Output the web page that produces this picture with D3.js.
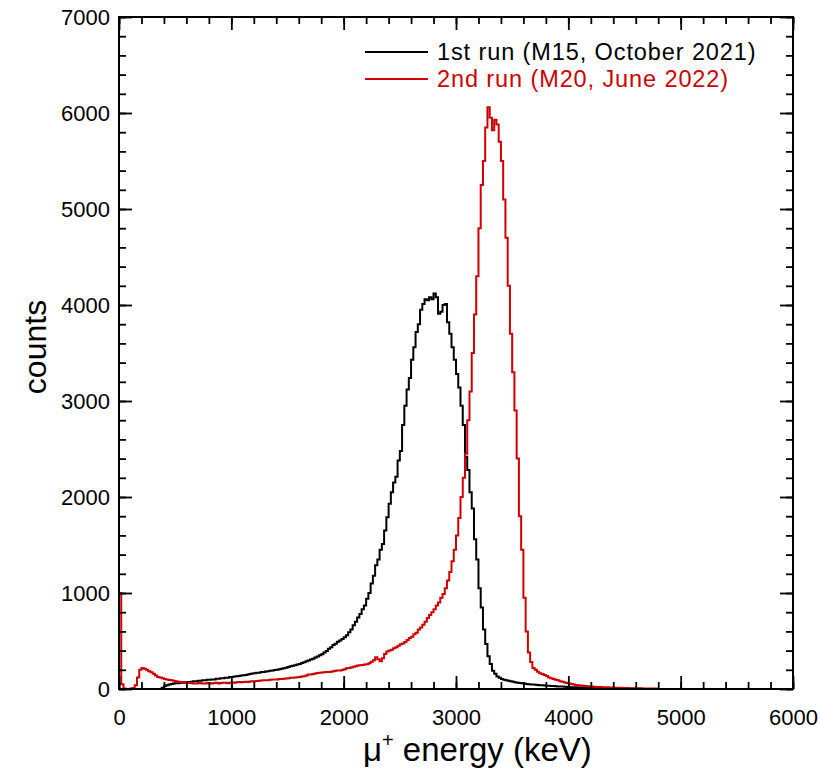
<!DOCTYPE html>
<html>
<head>
<meta charset="utf-8">
<script src="https://cdn.jsdelivr.net/npm/d3@7"></script>
<style>
  body { margin: 0; background: #fff; }
  svg { font-family: "Liberation Sans", Arial, Helvetica, sans-serif; }
</style>
</head>
<body>
<div class="MuChart"></div>
<script>
// histogram bins: left edge = i * binWidth (keV), 0 .. 4800
var binWidth = 20;

var run1Counts = [
  0, 0, 0, 0, 0, 0, 0, 0, 0, 0,
  0, 0, 0, 0, 0, 0, 0, 0, 0, 12,
  30, 40, 48, 52, 56, 60, 60, 64, 66, 70,
  70, 74, 76, 80, 80, 86, 86, 90, 90, 96,
  96, 100, 100, 106, 106, 112, 112, 118, 118, 124,
  126, 130, 132, 136, 140, 144, 146, 152, 156, 162,
  164, 170, 170, 176, 178, 182, 184, 190, 194, 198,
  200, 206, 210, 216, 222, 230, 236, 242, 248, 254,
  260, 270, 278, 288, 296, 306, 316, 328, 338, 352,
  362, 380, 396, 418, 436, 458, 472, 492, 506, 522,
  540, 560, 590, 620, 665, 700, 745, 780, 830, 870,
  940, 1000, 1100, 1180, 1290, 1350, 1450, 1510, 1650, 1790,
  1930, 2050, 2150, 2210, 2380, 2480, 2750, 2950, 3120, 3240,
  3430, 3560, 3720, 3800, 3950, 4010, 4060, 4050, 4080, 4060,
  4120, 4080, 3910, 3930, 4000, 4010, 3820, 3700, 3560, 3430,
  3280, 3140, 2950, 2750, 2420, 2280, 2050, 1880, 1560, 1350,
  1050, 850, 620, 470, 340, 260, 190, 160, 130, 118,
  104, 96, 92, 86, 80, 76, 70, 66, 62, 60,
  56, 52, 50, 48, 46, 44, 42, 40, 38, 36,
  35, 33, 32, 30, 28, 27, 26, 25, 24, 22,
  20, 19, 18, 17, 16, 15, 14, 13, 12, 12,
  11, 10, 10, 9, 8, 8, 7, 7, 6, 6,
  5, 4, 4, 4, 3, 3, 3, 3, 2, 2,
  2, 2, 1, 1, 1, 1, 1, 0, 0, 0
];

var run2Counts = [
  1000, 50, 5, 0, 0, 5, 10, 40, 120, 200,
  220, 210, 200, 185, 175, 160, 140, 125, 120, 112,
  105, 100, 95, 92, 85, 80, 76, 72, 70, 66,
  62, 62, 60, 58, 58, 62, 60, 56, 58, 62,
  60, 58, 62, 64, 58, 62, 66, 64, 60, 66,
  68, 66, 70, 72, 70, 74, 76, 74, 78, 80,
  80, 84, 86, 88, 90, 90, 92, 96, 98, 98,
  100, 104, 104, 108, 110, 112, 116, 118, 120, 122,
  125, 130, 134, 140, 150, 152, 156, 162, 166, 168,
  172, 174, 176, 178, 180, 186, 190, 192, 194, 198,
  205, 215, 218, 225, 232, 238, 244, 248, 250, 255,
  258, 268, 285, 300, 330, 310, 290, 320, 365, 390,
  400, 410, 425, 435, 450, 465, 475, 490, 510, 530,
  545, 570, 585, 620, 640, 670, 700, 740, 770, 800,
  830, 870, 900, 950, 990, 1050, 1130, 1220, 1330, 1450,
  1600, 1780, 2000, 2200, 2450, 2800, 3100, 3500, 3900, 4300,
  4800, 5250, 5500, 5850, 6060, 5950, 5820, 5930, 5880, 5700,
  5500, 5100, 4700, 4200, 3700, 3300, 2900, 2400, 1800, 1450,
  950, 600, 380, 280, 220, 200, 180, 165, 155, 145,
  135, 120, 112, 104, 96, 90, 82, 76, 68, 62,
  56, 52, 46, 42, 38, 36, 33, 31, 29, 27,
  25, 24, 22, 21, 20, 19, 18, 17, 16, 15,
  14, 13, 12, 12, 11, 10, 10, 9, 9, 8,
  8, 7, 7, 6, 6, 5, 5, 4, 4, 3
];

var runNames = ["1st run (M15, October 2021)", "2nd run (M20, June 2022)"];
var runColors = ["#000000", "#cc0000"];

var xTicks = [0, 1000, 2000, 3000, 4000, 5000, 6000];
var yTicks = [0, 1000, 2000, 3000, 4000, 5000, 6000, 7000];

var margin = {top: 17, right: 27, bottom: 84, left: 119},
    width = 820 - margin.left - margin.right,
    height = 773 - margin.top - margin.bottom;

var svg = d3.select(".MuChart").append("svg")
    .attr("width", 820)
    .attr("height", 773)
  .append("g")
    .attr("transform", "translate(" + margin.left + "," + margin.top + ")");

var x = d3.scaleLinear().domain([0, 6000]).range([0, width]);
var y = d3.scaleLinear().domain([0, 7000]).range([height, 0]);

var minorX = d3.range(0, 6001, 200);
var minorY = d3.range(0, 7001, 200);

svg.append("clipPath").attr("id", "plotClip")
  .append("rect").attr("width", width).attr("height", height);

// step histograms
function histPoints(counts) {
  var pts = [[0, 0]];
  counts.forEach(function(c, i) { pts.push([i * binWidth, c]); });
  pts.push([counts.length * binWidth, counts[counts.length - 1]]);
  return pts;
}

var step = d3.line()
    .x(function(d) { return x(d[0]); })
    .y(function(d) { return y(d[1]); })
    .curve(d3.curveStepAfter);

[run1Counts, run2Counts].forEach(function(counts, k) {
  svg.append("path")
      .attr("clip-path", "url(#plotClip)")
      .attr("d", step(histPoints(counts)))
      .attr("fill", "none")
      .attr("stroke", runColors[k])
      .attr("stroke-width", 2);
});

// axes with inward ticks on all four sides
function styleAxis(g) {
  g.select(".domain").remove();
  g.selectAll(".tick line").attr("stroke", "#000").attr("stroke-width", 1.8);
}

svg.append("g").attr("transform", "translate(0," + height + ")")
    .call(d3.axisBottom(x).tickValues(minorX).tickSize(-7).tickFormat(""))
    .call(styleAxis);
svg.append("g").attr("transform", "translate(0," + height + ")")
    .call(d3.axisBottom(x).tickValues(xTicks).tickSize(-13).tickPadding(20).tickFormat(d3.format("d")))
    .call(styleAxis)
    .selectAll("text").attr("font-size", 22).attr("fill", "#000")
    .attr("font-family", "Liberation Sans, Arial, sans-serif");
svg.append("g")
    .call(d3.axisTop(x).tickValues(minorX).tickSize(-7).tickFormat(""))
    .call(styleAxis);
svg.append("g")
    .call(d3.axisTop(x).tickValues(xTicks).tickSize(-13).tickFormat(""))
    .call(styleAxis);

svg.append("g")
    .call(d3.axisLeft(y).tickValues(minorY).tickSize(-7).tickFormat(""))
    .call(styleAxis);
svg.append("g")
    .call(d3.axisLeft(y).tickValues(yTicks).tickSize(-13).tickPadding(9).tickFormat(d3.format("d")))
    .call(styleAxis)
    .selectAll("text").attr("font-size", 22).attr("fill", "#000")
    .attr("font-family", "Liberation Sans, Arial, sans-serif");
svg.append("g").attr("transform", "translate(" + width + ",0)")
    .call(d3.axisRight(y).tickValues(minorY).tickSize(-7).tickFormat(""))
    .call(styleAxis);
svg.append("g").attr("transform", "translate(" + width + ",0)")
    .call(d3.axisRight(y).tickValues(yTicks).tickSize(-13).tickFormat(""))
    .call(styleAxis);

svg.append("rect")
    .attr("width", width)
    .attr("height", height)
    .attr("fill", "none")
    .attr("stroke", "#000")
    .attr("stroke-width", 2);

// axis titles
var xTitle = svg.append("text")
    .attr("x", 244)
    .attr("y", height + 72)
    .attr("font-size", 33)
    .attr("fill", "#000");
xTitle.append("tspan").text("\u03bc");
xTitle.append("tspan").attr("font-size", 20).attr("dy", -14).text("+");
xTitle.append("tspan").attr("dy", 14).text(" energy (keV)");

svg.append("text")
    .attr("transform", "translate(" + (-73) + "," + 330 + ") rotate(-90)")
    .attr("text-anchor", "middle")
    .attr("font-size", 32)
    .attr("fill", "#000")
    .text("counts");

// legend
runNames.forEach(function(name, k) {
  var ly = 35 + k * 27;
  svg.append("line")
      .attr("x1", 246).attr("x2", 309)
      .attr("y1", ly).attr("y2", ly)
      .attr("stroke", runColors[k])
      .attr("stroke-width", 2);
  svg.append("text")
      .attr("x", 318)
      .attr("y", ly + 8)
      .attr("font-size", 23.5)
      .attr("letter-spacing", 0.9)
      .attr("fill", runColors[k])
      .text(name);
});
</script>
</body>
</html>
